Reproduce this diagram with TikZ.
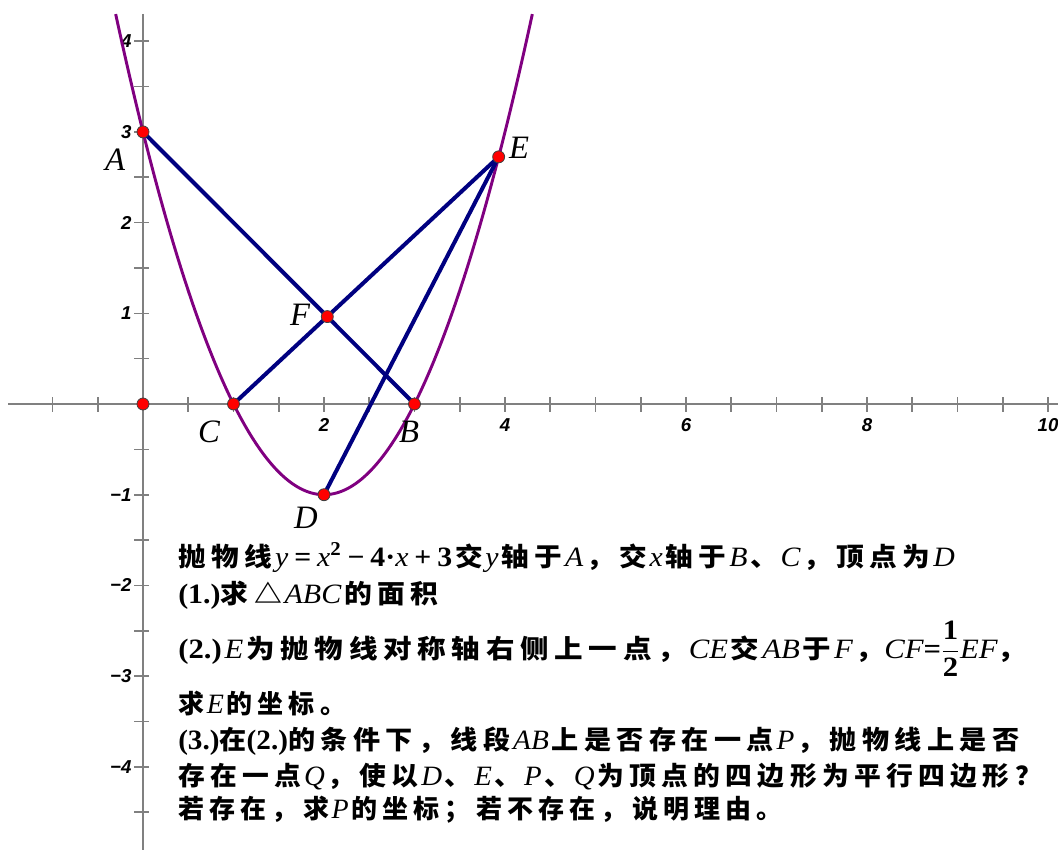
\documentclass[tikz,border=0pt]{standalone}
\usepackage{graphicx}
\usepackage{fontspec}
\setmainfont{Noto Sans CJK SC}[LetterSpace=20]
\newfontfamily\tm{Liberation Serif}
\newfontfamily\axf{Liberation Sans}
\newcommand\tmi[1]{\hspace{0.1em}{\tm\mdseries\itshape\fontsize{21pt}{21pt}\selectfont #1}\hspace{0.1em}}
\newcommand\tmn[1]{{\tm\mdseries\itshape\fontsize{21pt}{21pt}\selectfont #1}}
\newcommand\tmb[1]{{\tm\bfseries\upshape\fontsize{21pt}{21pt}\selectfont #1}}
\newcommand\wline[2]{\scalebox{#1}[1]{#2}}
\definecolor{segblue}{RGB}{0,0,128}
\definecolor{parab}{RGB}{128,0,128}
\definecolor{axgray}{RGB}{128,128,128}
\tikzset{
  axisline/.style={draw=axgray, line width=1.2pt},
  seg/.style={draw=segblue, line width=3pt},
  para/.style={draw=parab, line width=2.2pt},
  pt/.style={circle, fill=red, draw=black!75, line width=0.6pt, inner sep=0pt, minimum size=9pt},
  ticklab/.style={inner sep=0pt, font=\axf\bfseries\itshape\fontsize{14pt}{14pt}\selectfont},
  ptlab/.style={inner sep=0pt, font=\tm\itshape\fontsize{24.5pt}{24.5pt}\selectfont},
  txt/.style={anchor=base west, inner sep=0pt, font=\bfseries\fontsize{19.5pt}{19.5pt}\selectfont}
}
\begin{document}
\begin{tikzpicture}[x=0.75pt,y=-0.75pt]
\useasboundingbox (0,0) rectangle (1058,850);
\clip (0,0) rectangle (1058,850);
\begin{scope}[shift={(143,404)},x=67.875pt,y=68.025pt]
  % axes
  \coordinate (xl) at (-1.49,0);
  \coordinate (xr) at (10.2,0);
  \coordinate (yt) at (0,4.30);
  \coordinate (yb) at (0,-5.2);
  \draw[axisline] (xl) -- (xr);
  \draw[axisline] (yt) -- (yb);
  \foreach \i in {-2,...,20}{
    \draw[axisline] (\i/2,0) ++(0,5.25pt) -- ++(0,-11.25pt);
  }
  \foreach \i in {-10,...,-1,1,2,...,8}{
    \draw[axisline] (0,\i/2) ++(-6.75pt,0) -- ++(11.25pt,0);
  }
  \foreach \v/\t in {4/4,3/3,2/2,1/1,-1/−1,-2/−2,-3/−3,-4/−4,-5/−5}{
    \node[ticklab, anchor=east] (yl\t) at ([xshift=-8.5pt]0,\v) {\t};
  }
  \foreach \v in {2,4,6,8,10}{
    \node[ticklab] (xlab\v) at ([yshift=-15.75pt]\v,0) {\v};
  }
  % parabola
  \draw[para] plot[domain=-0.302:4.302, samples=150, smooth] (\x, {\x*\x-4*\x+3});
  % points
  \coordinate (O) at (0,0);
  \coordinate (A) at (0,3);
  \coordinate (B) at (3,0);
  \coordinate (C) at (1,0);
  \coordinate (D) at (2,-1);
  \coordinate (E) at (3.93,2.7249);
  \coordinate (F) at (intersection of A--B and C--E);
  \draw[seg] (A) -- (B);
  \draw[seg] (C) -- (E);
  \draw[seg] (D) -- (E);
  \foreach \p in {O,A,B,C,D,E,F}{
    \node[pt] (p\p) at (\p) {};
  }
\end{scope}
% point labels
\node[ptlab] (lA) at (115,160) {A};
\node[ptlab] (lB) at (409,432) {B};
\node[ptlab] (lC) at (209,432) {C};
\node[ptlab] (lD) at (306,518) {D};
\node[ptlab] (lE) at (519,148) {E};
\node[ptlab] (lF) at (300,315) {F};
% text
\node[txt] (t1) at (178,566) {\wline{1.064}{抛物线\hspace{0.1em}\tmn{y}\tmb{\hspace{0.2em}=\hspace{0.2em}}\tmn{x}\tmb{\textsuperscript{2}\hspace{0.2em}−\hspace{0.2em}4·}\tmn{x}\tmb{\hspace{0.2em}+\hspace{0.2em}3}\hspace{0.1em}交\tmi{y}轴于\tmi{A}，交\tmi{x}轴于\tmi{B}、\tmi{C}，顶点为\tmi{D}}};
\node[txt] (t2) at (178,603) {\wline{1.07}{\tmb{(1.)}求△\tmi{ABC}的面积}};
\node[txt] (t3) at (178,658) {\wline{1.098}{\tmb{(2.)}\tmi{E}为抛物线对称轴右侧上一点，\tmi{CE}交\tmi{AB}于\tmi{F}，\tmn{CF}\tmb{=}$\displaystyle\frac{\hbox{\tmb{1}}}{\hbox{\tmb{2}}}$\tmn{EF}，}};
\node[txt] (t4) at (178,713) {求\tmi{E}的坐标。};
\node[txt] (t5) at (178,749) {\wline{1.043}{\tmb{(3.)}在\tmb{(2.)}的条件下，线段\tmi{AB}上是否存在一点\tmi{P}，抛物线上是否}};
\node[txt] (t6) at (178,785) {\wline{1.03}{存在一点\tmi{Q}，使以\tmi{D}、\tmi{E}、\tmi{P}、\tmi{Q}为顶点的四边形为平行四边形？}};
\node[txt] (t7) at (178,818) {若存在，求\tmi{P}的坐标；若不存在，说明理由。};
\end{tikzpicture}
\end{document}
